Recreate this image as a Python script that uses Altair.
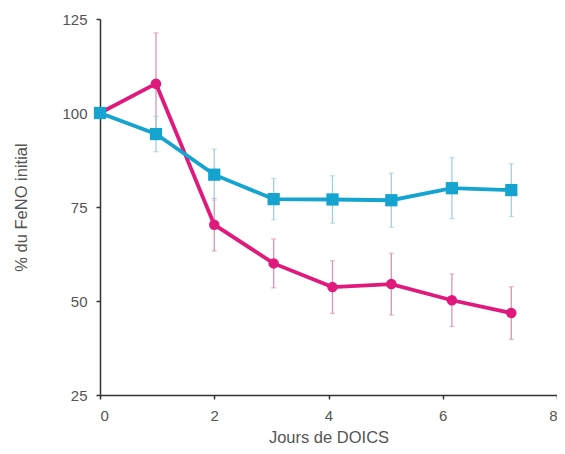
import altair as alt
import pandas as pd

days = [0, 0.98, 2.0, 3.04, 4.07, 5.1, 6.16, 7.2]
feno_mag = [100, 107.8, 70.3, 60.0, 53.7, 54.5, 50.2, 46.8]
err_mag = [0, 13.5, 7.0, 6.5, 7.0, 8.2, 7.0, 7.0]
feno_cyan = [100, 94.4, 83.6, 77.1, 77.0, 76.8, 80.0, 79.5]
err_cyan = [0, 4.7, 6.8, 5.5, 6.3, 7.2, 8.1, 7.0]

MAG = "#e0197d"
CYAN = "#15a4cf"
MAG_ERR = "#d995b3"
CYAN_ERR = "#a3cfe0"

def frame(vals, errs):
    return pd.DataFrame({
        "day": days,
        "v": vals,
        "lo": [v - e for v, e in zip(vals, errs)],
        "hi": [v + e for v, e in zip(vals, errs)],
        "has": [e > 0 for e in errs],
    })

dm = frame(feno_mag, err_mag)
dc = frame(feno_cyan, err_cyan)

xs = alt.Scale(domain=[0, 8], nice=False)
ys = alt.Scale(domain=[25, 125], nice=False)

X = alt.X("day:Q", scale=xs, axis=alt.Axis(values=[0, 2, 4, 6, 8], format="d", title="Jours de DOICS"))
Y = alt.Y("v:Q", scale=ys, axis=alt.Axis(values=[25, 50, 75, 100, 125], format="d", title="% du FeNO initial"))

def errors(df, color):
    base = alt.Chart(df).transform_filter("datum.has")
    rule = base.mark_rule(color=color, strokeWidth=1.3).encode(
        x=alt.X("day:Q", scale=xs), y=alt.Y("lo:Q", scale=ys), y2="hi:Q")
    t1 = base.mark_tick(color=color, orient="horizontal", size=5, thickness=1.2).encode(
        x=alt.X("day:Q", scale=xs), y=alt.Y("lo:Q", scale=ys))
    t2 = base.mark_tick(color=color, orient="horizontal", size=5, thickness=1.2).encode(
        x=alt.X("day:Q", scale=xs), y=alt.Y("hi:Q", scale=ys))
    return rule + t1 + t2

line_m = alt.Chart(dm).mark_line(color=MAG, strokeWidth=3.8).encode(x=X, y=Y)
pts_m = alt.Chart(dm).mark_point(shape="circle", filled=True, color=MAG, size=110, opacity=1).encode(x=X, y=Y)
line_c = alt.Chart(dc).mark_line(color=CYAN, strokeWidth=3.8).encode(x=X, y=Y)
pts_c = alt.Chart(dc).mark_point(shape="square", filled=True, color=CYAN, size=150, opacity=1).encode(x=X, y=Y)

chart = alt.layer(
    errors(dm, MAG_ERR), errors(dc, CYAN_ERR), line_m, pts_m, line_c, pts_c
).properties(
    width=457, height=376,
    autosize=alt.AutoSizeParams(type="none"),
    padding={"left": 92, "top": 11, "right": 0, "bottom": 50},
    background="white",
).configure_view(stroke=None).configure_axis(
    grid=False, domainColor="#333", domainWidth=1.5, tickColor="#333", tickSize=4, tickWidth=1.5,
    labelFont="Liberation Sans", labelFontSize=15, labelColor="#555",
    titleFont="Liberation Sans", titleFontSize=16.5, titleColor="#555", titleFontWeight="normal",
).configure_axisX(labelPadding=9, titlePadding=6).configure_axisY(labelPadding=9, titlePadding=32)

chart.save("out.html", embed_options={"renderer": "svg", "actions": False})
